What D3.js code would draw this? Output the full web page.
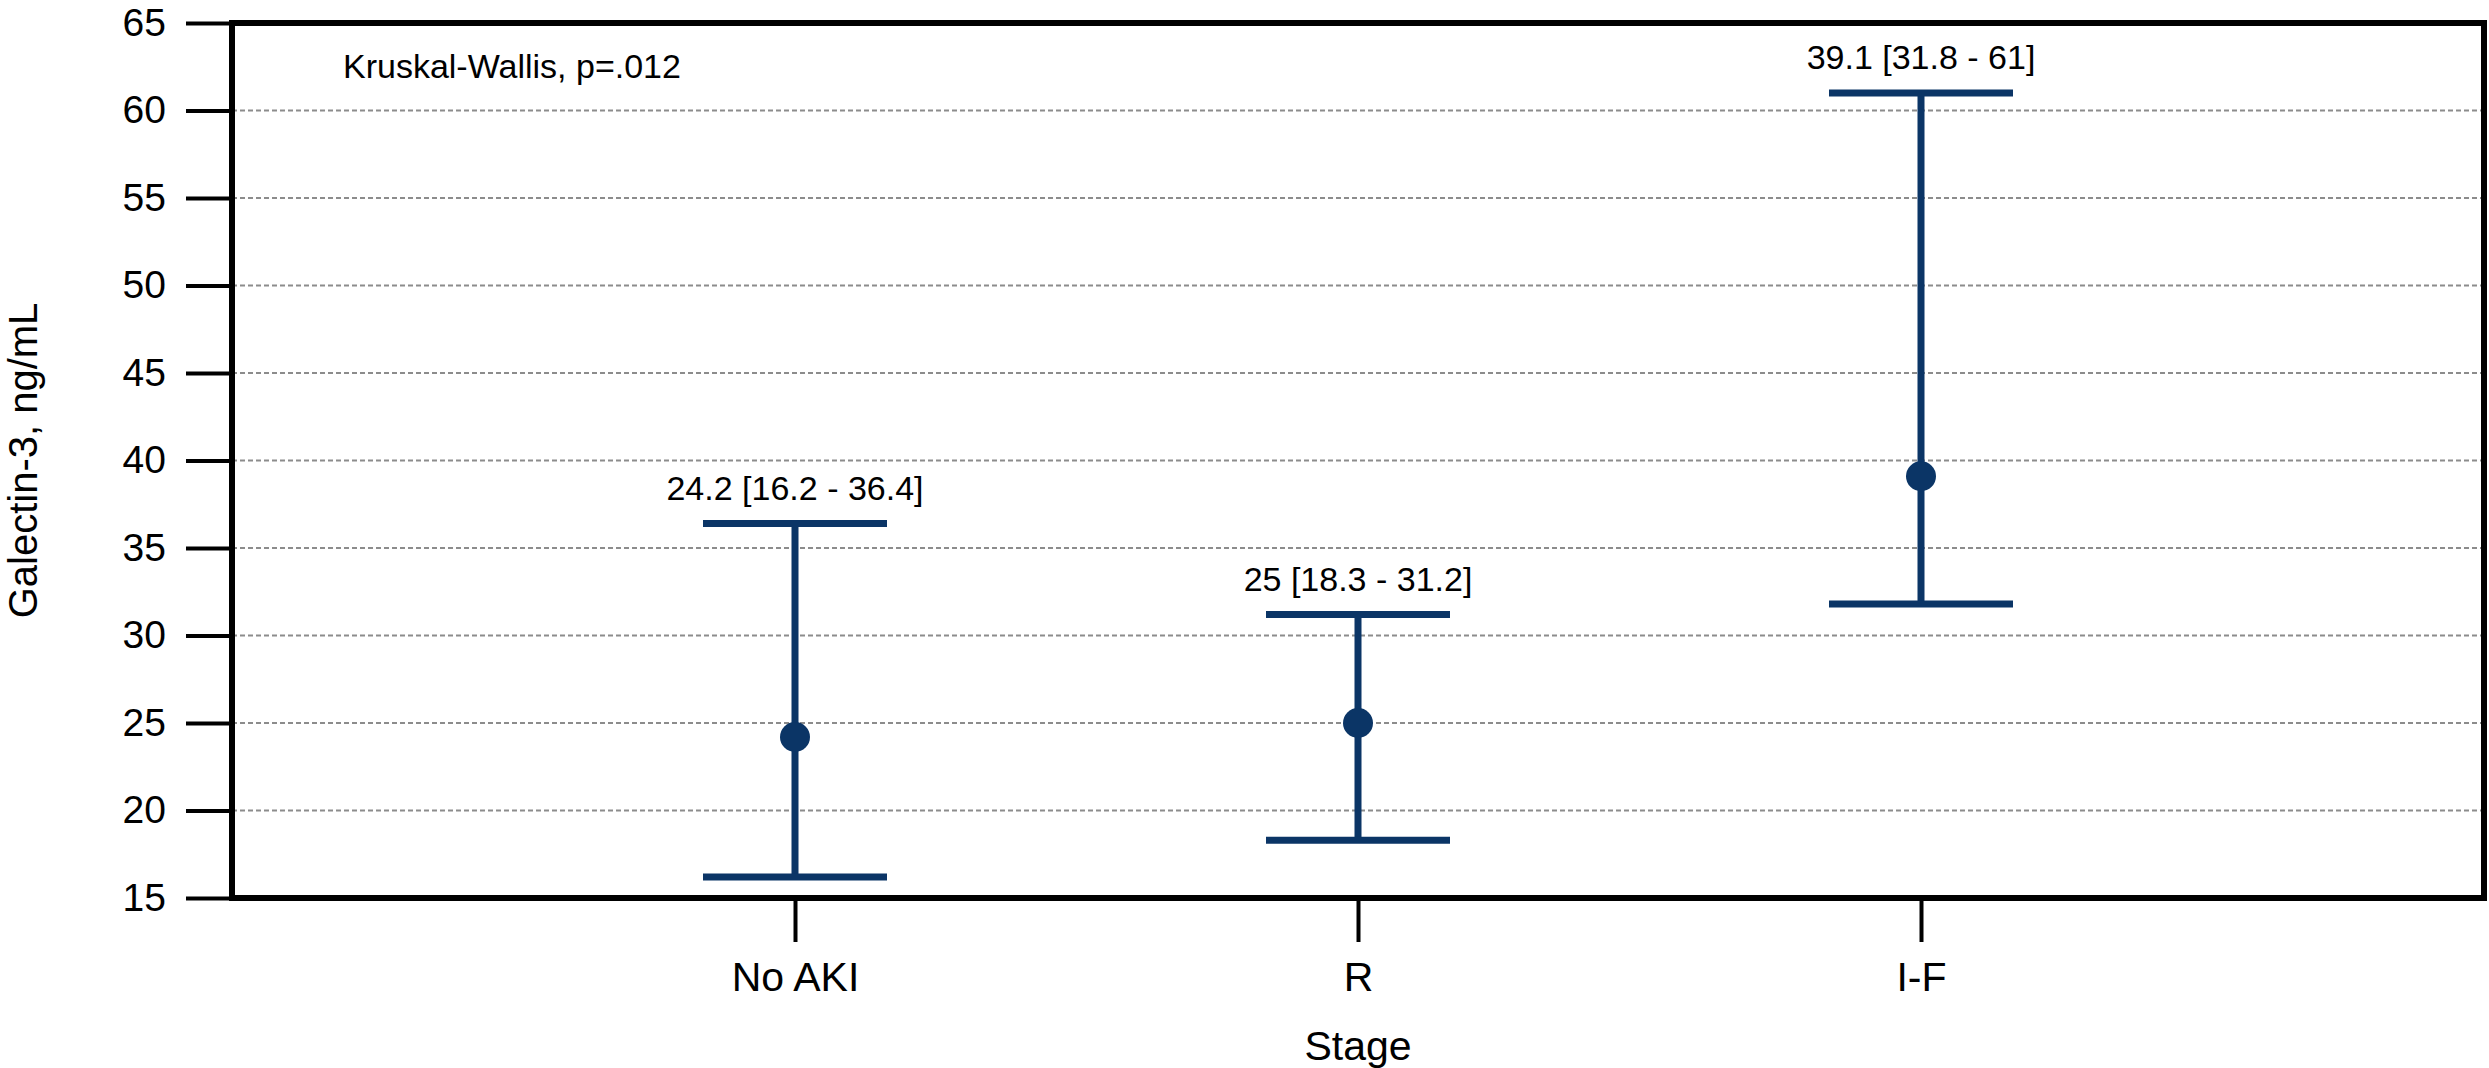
<!DOCTYPE html>
<html>
<head>
<meta charset="utf-8">
<script src="https://cdn.jsdelivr.net/npm/d3@7"></script>
<style>
    body { margin: 0; background: #fff; }
    text { font-family: "Liberation Sans", Arial, Helvetica, sans-serif; }
</style>
</head>
<body>
<div id="chart"></div>
<script>

// values: median [IQR]
var stages = ["No AKI", "R", "I-F"];
var medians = [24.2, 25, 39.1];
var lowers = [16.2, 18.3, 31.8];
var uppers = [36.4, 31.2, 61];
var yTicks = [15, 20, 25, 30, 35, 40, 45, 50, 55, 60, 65];
var gridTicks = [20, 25, 30, 35, 40, 45, 50, 55, 60];

function ErrorPlot(){
    this.data = stages.map(function(s, i){
        return {stage: s, median: medians[i], lower: lowers[i], upper: uppers[i]};
    });
    this.initVis();
}

ErrorPlot.prototype.initVis = function(){
    var vis = this;
    vis.margin = {top: 23, right: 5, bottom: 170, left: 232};
    vis.width = 2489 - vis.margin.left - vis.margin.right;
    vis.height = 1068 - vis.margin.top - vis.margin.bottom;

    vis.svg = d3.select("#chart").append("svg")
        .attr("width", 2489)
        .attr("height", 1068)
        .append("g")
        .attr("transform", "translate(" + vis.margin.left + "," + vis.margin.top + ")");

    vis.x = d3.scalePoint().domain(stages).range([0, vis.width]).padding(1);
    vis.y = d3.scaleLinear().domain([15, 65]).range([vis.height, 0]);

    // dashed grid
    vis.svg.selectAll(".grid")
        .data(gridTicks)
        .enter().append("line")
        .attr("class", "grid")
        .attr("x1", 0).attr("x2", vis.width)
        .attr("y1", function(d){ return vis.y(d); })
        .attr("y2", function(d){ return vis.y(d); })
        .attr("stroke", "#8c8c8c")
        .attr("stroke-width", 2)
        .attr("stroke-dasharray", "5,3");

    // y axis
    var yAxis = vis.svg.append("g")
        .call(d3.axisLeft(vis.y).tickValues(yTicks).tickSize(46).tickPadding(20));
    yAxis.select(".domain").remove();
    yAxis.selectAll("line").attr("stroke", "#000").attr("stroke-width", 4);
    yAxis.selectAll("text").attr("font-size", "39px").attr("fill", "#000");

    // x axis
    var xAxis = vis.svg.append("g")
        .attr("transform", "translate(0," + vis.height + ")")
        .call(d3.axisBottom(vis.x).tickSize(44).tickPadding(20));
    xAxis.select(".domain").remove();
    xAxis.selectAll("line").attr("stroke", "#000").attr("stroke-width", 4);
    xAxis.selectAll("text").attr("font-size", "41px").attr("fill", "#000");

    // frame
    vis.svg.append("rect")
        .attr("width", vis.width)
        .attr("height", vis.height)
        .attr("fill", "none")
        .attr("stroke", "#000")
        .attr("stroke-width", 6);

    vis.svg.append("text")
        .attr("x", vis.width / 2)
        .attr("y", vis.height + 162)
        .attr("text-anchor", "middle")
        .attr("font-size", "41px")
        .text("Stage");

    vis.svg.append("text")
        .attr("transform", "translate(" + (37 - vis.margin.left) + "," + (vis.height / 2) + ") rotate(-90)")
        .attr("text-anchor", "middle")
        .attr("font-size", "40px")
        .text("Galectin-3, ng/mL");

    vis.svg.append("text")
        .attr("x", 111)
        .attr("y", 55)
        .attr("font-size", "34px")
        .text("Kruskal-Wallis, p=.012");

    vis.updateVis();
}

ErrorPlot.prototype.updateVis = function(){
    var vis = this;
    var color = "#0b3566";
    var capHalf = 92;

    var bars = vis.svg.selectAll(".bar")
        .data(vis.data)
        .enter().append("g")
        .attr("class", "bar");

    bars.append("line")
        .attr("x1", function(d){ return vis.x(d.stage); })
        .attr("x2", function(d){ return vis.x(d.stage); })
        .attr("y1", function(d){ return vis.y(d.lower); })
        .attr("y2", function(d){ return vis.y(d.upper); })
        .attr("stroke", color)
        .attr("stroke-width", 7);

    ["lower", "upper"].forEach(function(k){
        bars.append("line")
            .attr("x1", function(d){ return vis.x(d.stage) - capHalf; })
            .attr("x2", function(d){ return vis.x(d.stage) + capHalf; })
            .attr("y1", function(d){ return vis.y(d[k]); })
            .attr("y2", function(d){ return vis.y(d[k]); })
            .attr("stroke", color)
            .attr("stroke-width", 7);
    });

    bars.append("circle")
        .attr("cx", function(d){ return vis.x(d.stage); })
        .attr("cy", function(d){ return vis.y(d.median); })
        .attr("r", 15)
        .attr("fill", color);

    bars.append("text")
        .attr("x", function(d){ return vis.x(d.stage); })
        .attr("y", function(d){ return vis.y(d.upper) - 24; })
        .attr("text-anchor", "middle")
        .attr("font-size", "34px")
        .text(function(d){ return d.median + " [" + d.lower + " - " + d.upper + "]"; });
}

new ErrorPlot();
</script>
</body>
</html>
